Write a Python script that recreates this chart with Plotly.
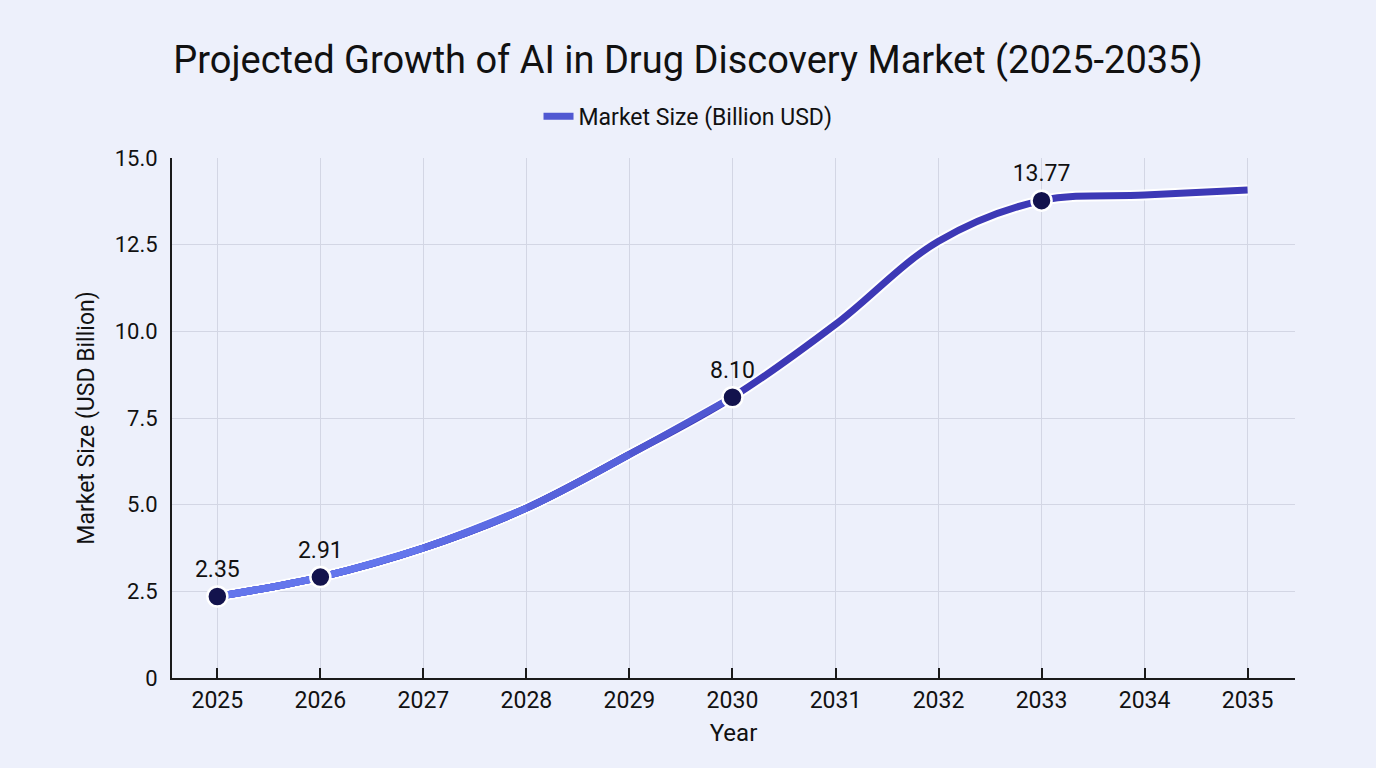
import plotly.graph_objects as go

years = [2025, 2026, 2027, 2028, 2029, 2030, 2031, 2032, 2033, 2034, 2035]
market_size = [2.35, 2.91, 3.75, 4.9, 6.45, 8.10, 10.2, 12.6, 13.77, 13.93, 14.08]
highlight_years = [2025, 2026, 2030, 2033]

# gradient approximation: progressively shorter overlays, lighter toward the start
layers = [
    (2035, "#3d39b6"),
    (2030, "#5058d2"),
    (2029, "#5762db"),
    (2028, "#5d6ce4"),
    (2027, "#6476ec"),
]

fig = go.Figure()

fig.add_trace(go.Scatter(
    x=years, y=market_size, mode="lines",
    line=dict(color="white", width=11, shape="spline", smoothing=1.0),
    hoverinfo="skip", showlegend=False,
))

for i, (end_year, color) in enumerate(layers):
    xs = [x for x in years if x <= end_year]
    ys = market_size[:len(xs)]
    fig.add_trace(go.Scatter(
        x=xs, y=ys, mode="lines",
        line=dict(color=color, width=7, shape="spline", smoothing=1.0),
        name="Market Size (Billion USD)",
        showlegend=(i == 1),
        hoverinfo="skip" if i else None,
    ))

hx = [x for x in years if x in highlight_years]
hy = [market_size[years.index(x)] for x in hx]
fig.add_trace(go.Scatter(
    x=hx, y=hy, mode="markers+text",
    marker=dict(size=20, color="#13134d", line=dict(color="white", width=2.5)),
    text=[f"{v:.2f}" for v in hy], textposition="top center",
    textfont=dict(size=23, color="#111111", family="Roboto"),
    showlegend=False,
))

fig.update_layout(
    width=1376, height=768,
    paper_bgcolor="#edf0fb", plot_bgcolor="#edf0fb",
    font=dict(family="Roboto", color="#111111", size=22),
    title=dict(text="Projected Growth of AI in Drug Discovery Market (2025-2035)",
               x=0.5, xanchor="center", y=0.922, yanchor="middle",
               font=dict(size=38, color="#111111", family="Roboto")),
    legend=dict(orientation="h", x=0.4595, xanchor="center", y=1.08, yanchor="middle",
                bgcolor="rgba(0,0,0,0)", font=dict(size=23, color="#111111")),
    margin=dict(l=172, r=81, t=158, b=90),
    xaxis=dict(
        title=dict(text="Year", font=dict(size=24), standoff=12),
        range=[2024.56, 2035.46], tickmode="array", tickvals=years,
        ticktext=[str(y) for y in years],
        showgrid=True, gridcolor="#d3d6e4", gridwidth=1,
        showline=True, linecolor="#1a1a1a", linewidth=2,
        ticks="inside", ticklen=10, tickcolor="#1a1a1a", tickwidth=1.5,
        tickfont=dict(size=23), zeroline=False,
    ),
    yaxis=dict(
        title=dict(text="Market Size (USD Billion)", font=dict(size=23), standoff=14),
        range=[0, 15], tickmode="array", tickvals=[0, 2.5, 5, 7.5, 10, 12.5, 15],
        ticktext=["0", "2.5", "5.0", "7.5", "10.0", "12.5", "15.0"],
        showgrid=True, gridcolor="#d3d6e4", gridwidth=1,
        showline=True, linecolor="#1a1a1a", linewidth=2,
        ticks="", tickfont=dict(size=22), zeroline=False,
        ticklabelstandoff=8,
    ),
)

fig.write_html("out.html")
